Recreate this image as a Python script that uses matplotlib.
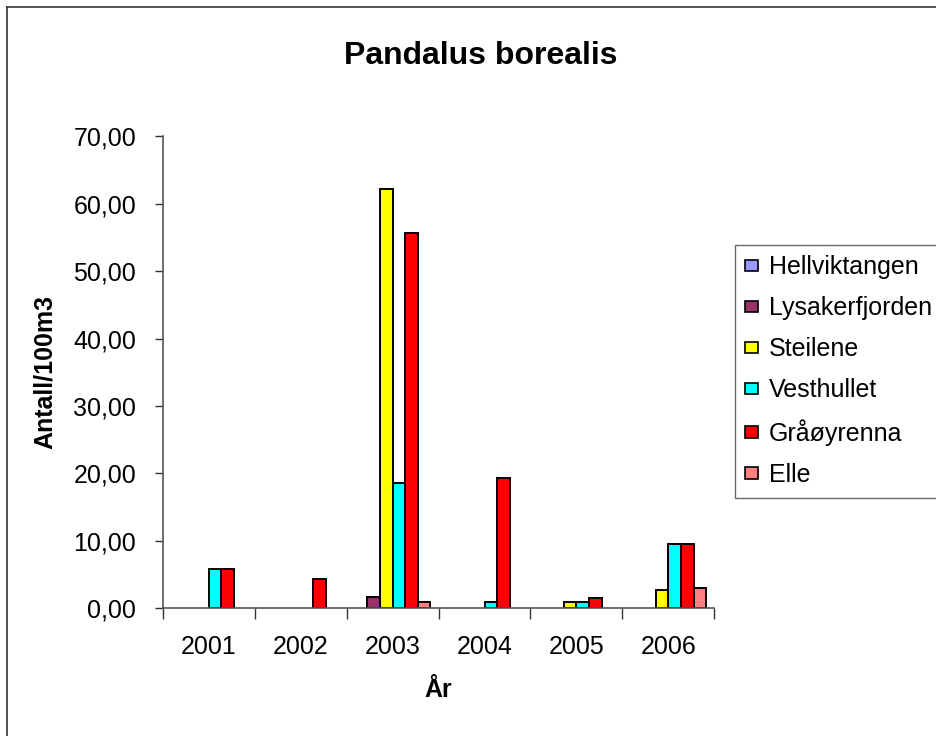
import numpy as np
import matplotlib
matplotlib.use("Agg")
import matplotlib.pyplot as plt
from matplotlib.patches import Patch
from matplotlib.lines import Line2D
from matplotlib.ticker import FuncFormatter, FixedLocator

plt.rcParams['font.family'] = ['Liberation Sans', 'DejaVu Sans']

# Data (Antall/100m3 per år og stasjon)
years = ['2001', '2002', '2003', '2004', '2005', '2006']
stations = ['Hellviktangen', 'Lysakerfjorden', 'Steilene', 'Vesthullet', 'Gråøyrenna', 'Elle']
hellviktangen = [0, 0, 0, 0, 0, 0]
lysakerfjorden = [0, 0, 1.7, 0, 0, 0]
steilene = [0, 0, 62.2, 0, 0.9, 2.7]
vesthullet = [5.9, 0, 18.6, 0.9, 0.9, 9.5]
graaoyrenna = [5.9, 4.4, 55.6, 19.3, 1.5, 9.5]
elle = [0, 0, 0.9, 0, 0, 3.0]
colors = ['#9999FF', '#993366', '#FFFF00', '#00FFFF', '#FF0000', '#FF8080']

series = [hellviktangen, lysakerfjorden, steilene, vesthullet, graaoyrenna, elle]

fig = plt.figure(figsize=(9.37, 7.36), dpi=100, facecolor='white')
ax = fig.add_axes([0.1735, 0.1735, 0.589, 0.6415])

x = np.arange(len(years))
w = 0.137
for i, (vals, c) in enumerate(zip(series, colors)):
    v = np.array(vals, dtype=float)
    v[v == 0] = np.nan  # nullverdier tegnes ikke
    ax.bar(x + (i - 2.5) * w, v, width=w, color=c, edgecolor='black', linewidth=1.4)

ax.set_xlim(-0.5, 5.5)
ax.set_ylim(0, 70)
ax.set_yticks(np.arange(0, 71, 10))
ax.yaxis.set_major_formatter(FuncFormatter(lambda v, p: f"{v:.2f}".replace('.', ',')))

# kategori-grenser som store ticks, årstall som små ticks
ax.xaxis.set_major_locator(FixedLocator(np.arange(-0.5, 6, 1)))
ax.xaxis.set_minor_locator(FixedLocator(x))
ax.set_xticklabels([''] * 7)
ax.set_xticklabels(years, minor=True)
ax.tick_params(axis='x', which='major', length=8, width=1, color='#333333')
ax.tick_params(axis='x', which='minor', length=0, pad=19, labelsize=18)
ax.tick_params(axis='y', length=6, width=1, color='#333333', pad=13, labelsize=18)

for s in ['top', 'right']:
    ax.spines[s].set_visible(False)
for s in ['left', 'bottom']:
    ax.spines[s].set_color('#555555')
    ax.spines[s].set_linewidth(1.2)

ax.set_xlabel('År', fontsize=18, fontweight='bold', labelpad=14)
fig.text(45 / 937, 1 - 372 / 736, 'Antall/100m3', rotation=90, fontsize=18,
         fontweight='bold', ha='center', va='center')
fig.text(481 / 937, 1 - 56 / 736, 'Pandalus borealis', fontsize=23,
         fontweight='bold', ha='center', va='center')

handles = [Patch(facecolor=c, edgecolor='black', linewidth=1.2) for c in colors]
leg = fig.legend(handles, stations, loc='upper left',
                 bbox_to_anchor=(735 / 937, 1 - 245 / 736), borderaxespad=0,
                 fontsize=18, frameon=True, fancybox=False, edgecolor='#444444',
                 handlelength=0.5, handleheight=0.35, handletextpad=0.45,
                 borderpad=0.42, labelspacing=0.68)
leg.get_frame().set_linewidth(1.0)

# ramme rundt diagrammet (venstre og topp synlig)
fig.add_artist(Line2D([7 / 937, 7 / 937], [0, 1 - 7 / 736], transform=fig.transFigure,
                      color='#333333', linewidth=1.2))
fig.add_artist(Line2D([7 / 937, 1], [1 - 7 / 736, 1 - 7 / 736], transform=fig.transFigure,
                      color='#333333', linewidth=1.2))

fig.savefig('out.png', dpi=100, facecolor='white')
